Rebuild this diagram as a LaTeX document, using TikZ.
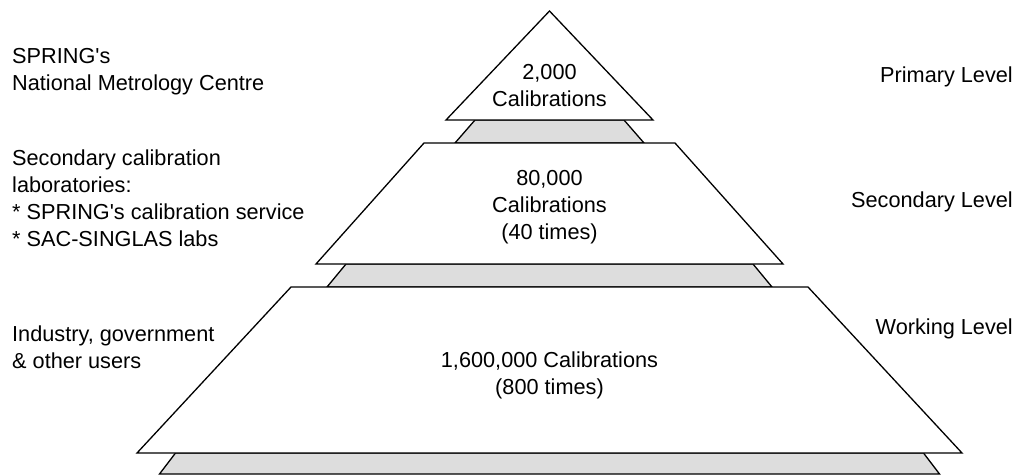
\documentclass[tikz,border=0pt]{standalone}
\usepackage{fontspec}
\newfontfamily\arial{Liberation Sans}
\definecolor{bandgray}{HTML}{DDDDDD}
\begin{document}
\begin{tikzpicture}[x=1pt,y=-1pt,
  lbl/.style={inner sep=0pt, font=\arial\fontsize{21.7}{27}\selectfont},
  tier/.style={draw=black, fill=white, line width=1.3pt, line join=miter},
  band/.style={draw=black, fill=bandgray, line width=1.3pt}]
\useasboundingbox (0,0) rectangle (1019,475);

% grey bands between the tiers
\def\cx{549.5}
\draw[band] (\cx-74.5,120) -- (\cx+74.5,120) -- (\cx+94.5,143) -- (\cx-94.5,143) -- cycle;
\draw[band] (\cx-203.5,264) -- (\cx+203.5,264) -- (\cx+222.5,287) -- (\cx-222.5,287) -- cycle;
\draw[band] (\cx-374,453) -- (\cx+374,453) -- (\cx+390,474) -- (\cx-390,474) -- cycle;

% the three tiers of the pyramid
\draw[tier] (\cx,11) -- (\cx+103.5,120) -- (\cx-103.5,120) -- cycle;
\draw[tier] (\cx-125.5,143) -- (\cx+125.5,143) -- (\cx+233.5,264) -- (\cx-233.5,264) -- cycle;
\draw[tier] (\cx-258.5,287) -- (\cx+258.5,287) -- (\cx+412.5,453) -- (\cx-412.5,453) -- cycle;

% counts inside the tiers (anchored at the baseline of the last line)
\node[lbl, align=center, anchor=base] (primcount) at (\cx,106) {2,000\\Calibrations};
\node[lbl, align=center, anchor=base] (seccount) at (\cx,239) {80,000\\Calibrations\\(40 times)};
\node[lbl, align=center, anchor=base] (workcount) at (\cx,394) {1,600,000 Calibrations\\(800 times)};

% who works at each level
\node[lbl, align=left, anchor=base west] (nmc) at (12,90) {SPRING's\\National Metrology Centre};
\node[lbl, align=left, anchor=base west] (labs) at (12,246) {Secondary calibration\\laboratories:\\* SPRING's calibration service\\* SAC-SINGLAS labs};
\node[lbl, align=left, anchor=base west] (users) at (12,368) {Industry, government\\\& other users};

% level names
\node[lbl, anchor=base east] (primlvl) at (1013,82) {Primary Level};
\node[lbl, anchor=base east] (seclvl) at (1013,207) {Secondary Level};
\node[lbl, anchor=base east] (worklvl) at (1013,334) {Working Level};
\end{tikzpicture}
\end{document}
